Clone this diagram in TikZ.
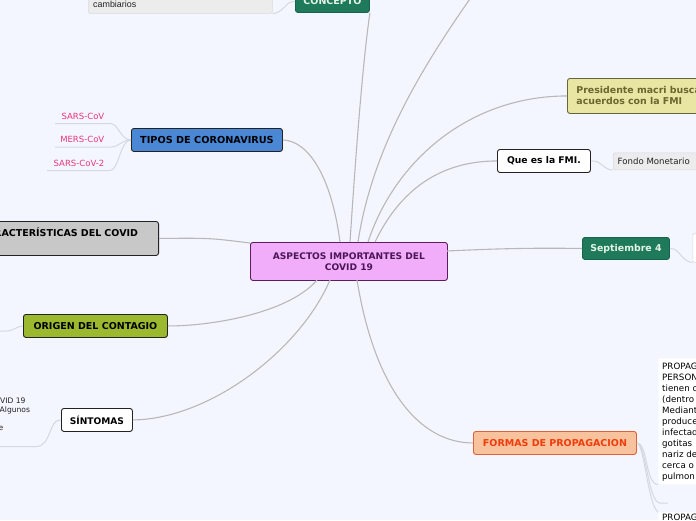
\documentclass[tikz,border=0pt]{standalone}
\usepackage{fontspec}
\setmainfont{DejaVu Sans}
\newfontfamily\arialfont{Liberation Sans}
\usetikzlibrary{calc}
\definecolor{bg}{HTML}{F3F6FE}
\definecolor{linegray}{HTML}{B8B8B8}
\definecolor{ulgray}{HTML}{D4D8E0}
\definecolor{cfill}{HTML}{F2ADFA}
\definecolor{cdraw}{HTML}{5A1E5E}
\definecolor{ctext}{HTML}{4A1656}
\definecolor{gfill}{HTML}{1F7A5C}
\definecolor{gdraw}{HTML}{17634A}
\definecolor{gtext}{HTML}{E6F4E8}
\definecolor{bfill}{HTML}{4A88D6}
\definecolor{dk}{HTML}{222222}
\definecolor{grfill}{HTML}{C8C8C8}
\definecolor{ofill}{HTML}{9CB82E}
\definecolor{yfill}{HTML}{E8E6A2}
\definecolor{ydraw}{HTML}{66663E}
\definecolor{ytext}{HTML}{6B6530}
\definecolor{pfill}{HTML}{F8C29C}
\definecolor{pdraw}{HTML}{E0603A}
\definecolor{ptext}{HTML}{F03C0C}
\definecolor{pink}{HTML}{E8357F}
\definecolor{lbox}{HTML}{ECECEC}
\definecolor{lboxd}{HTML}{DADADA}
\begin{document}
\begin{tikzpicture}[x=1pt,y=-1pt,
  topic/.style={draw, rounded corners=2.5pt, line width=0.9pt, inner sep=0pt, anchor=north west,
    font=\bfseries\fontsize{9.5}{11.5}\selectfont, align=center},
  conn/.style={draw=linegray, line width=1.1pt},
  uline/.style={draw=ulgray, line width=1pt},
  small/.style={inner sep=0pt, font=\fontsize{8.5}{9.5}\selectfont},
  pinktxt/.style={inner sep=0pt, anchor=east, text=pink, font=\fontsize{8.5}{9.5}\selectfont},
  lightbox/.style={fill=lbox, draw=lboxd, line width=0.6pt, rounded corners=1.5pt, inner sep=0pt, anchor=north west},
  whitebox/.style={fill=white, draw=lboxd, line width=0.6pt, rounded corners=1.5pt, inner sep=0pt, anchor=north west}
  ]
\fill[bg] (0,0) rectangle (696,520);
\useasboundingbox (0,0) rectangle (696,520);

% ---------- nodes ----------
\node[topic, fill=cfill, draw=cdraw, text=ctext, minimum width=197, minimum height=38,
  font=\bfseries\fontsize{9.1}{10.5}\selectfont] (c) at (250,242) {ASPECTOS IMPORTANTES DEL\\COVID 19};

\node[lightbox, minimum width=184, minimum height=33] (cam) at (88,-20) {};
\node[small, anchor=base west, font=\arialfont\fontsize{8.9}{10}\selectfont, text=dk] (camt) at (93,7.5) {cambiarios};
\node[topic, fill=gfill, draw=gdraw, text=gtext, minimum width=74, minimum height=22] (concept) at (295,-10) {CONCEPTO};

\node[topic, fill=bfill, draw=dk, text=black, minimum width=151, minimum height=23,
  font=\bfseries\fontsize{9.7}{11.5}\selectfont] (tipos) at (131,128) {TIPOS DE CORONAVIRUS};
\node[pinktxt] (s1) at (104.5,116) {SARS-CoV};
\node[pinktxt] (s2) at (104.5,139.5) {MERS-CoV};
\node[pinktxt] (s3) at (104.5,163) {SARS-CoV-2};
\coordinate (s1r) at (110,123.5); \coordinate (s1l) at (55,123.5);
\coordinate (s2r) at (112,147); \coordinate (s2l) at (55,147);
\coordinate (s3r) at (110,170.5); \coordinate (s3l) at (47,170.5);

\node[topic, fill=grfill, draw=dk, text=black, anchor=north east, minimum width=220, minimum height=34,
  text width=179, align=right, inner xsep=20.5pt] (car) at (159,221) {CARACTERÍSTICAS DEL COVID\\[1pt]\mbox{}};

\node[topic, fill=ofill, draw=dk, text=black, minimum width=144, minimum height=23] (origen) at (23,314) {ORIGEN DEL CONTAGIO};
\coordinate (orl) at (0,331);

\node[topic, fill=white, draw=dk, text=black, minimum width=71, minimum height=23,
  font=\bfseries\fontsize{9.1}{11}\selectfont] (sint) at (61,408) {SÍNTOMAS};
\node[small, anchor=west, text=dk, font=\fontsize{7.6}{9.5}\selectfont] (f1) at (0,400.5) {VID 19};
\node[small, anchor=west, text=dk, font=\fontsize{7.6}{9.5}\selectfont] (f2) at (-0.5,410) {Algunos};
\node[small, anchor=west, text=dk, font=\fontsize{7.6}{9.5}\selectfont] (f3) at (-1.6,428.5) {e};
\coordinate (sil) at (0,446.5);

\node[topic, fill=yfill, draw=ydraw, text=ytext, minimum height=35, align=left, inner xsep=9pt,
  font=\bfseries\fontsize{9.4}{11}\selectfont] (pres) at (567,78) {Presidente macri busca\\acuerdos con la FMI\hspace*{30pt}};

\node[topic, fill=white, draw=dk, text=black, minimum width=93, minimum height=23,
  font=\bfseries\fontsize{9.2}{11}\selectfont] (fmi) at (497,149) {Que es la FMI.};
\node[lightbox, minimum width=100, minimum height=17] (fondo) at (613,152.5) {};
\node[small, anchor=west, text=dk, font=\fontsize{8.6}{10}\selectfont] (fondot) at (617.5,161) {Fondo Monetario};

\node[topic, fill=gfill, draw=gdraw, text=gtext, minimum width=87, minimum height=22,
  font=\bfseries\fontsize{9.4}{11}\selectfont] (sept) at (582,237) {Septiembre 4};
\node[whitebox, minimum width=30, minimum height=29] (rb) at (692.5,233) {};

\node[topic, fill=pfill, draw=pdraw, text=ptext, minimum width=163, minimum height=23] (formas) at (473,431) {FORMAS DE PROPAGACION};
\node[whitebox, draw=none, minimum width=60, minimum height=126] (pb) at (658,358) {};
\node[small, anchor=north west, text=black, align=left, font=\fontsize{8.7}{11}\selectfont] (pbt) at (662,362.5)
  {PROPAGAC\\PERSON\\tienen c\\(dentro\\Mediant\\produce\\infectad\\gotitas\\nariz de\\cerca o\\pulmon};
\coordinate (mid) at (668,503);
\node[whitebox, draw=none, minimum width=60, minimum height=20] (pb2) at (658,512) {};
\node[small, anchor=north west, text=black, font=\fontsize{8.7}{11}\selectfont] (pb2t) at (662,513.5) {PROPAG};

% ---------- connectors ----------
\coordinate (ct1) at (340,242);
\coordinate (ct2) at (350,242);
\coordinate (ct3) at (358,242);
\coordinate (ct4) at (368,242);
\coordinate (ct5) at (375,242);
\coordinate (cb1) at (317,280);
\coordinate (cb2) at (330,280);
\coordinate (cb3) at (357,280);
\coordinate (cl) at (250,243);
\coordinate (cr) at (447,251);
\coordinate (topend) at (472,-4);

\draw[conn] (ct1) .. controls (332,180) and (310,141) .. (tipos.east);
\draw[conn] (ct2) .. controls (356,150) and (363,60) .. (concept.south east);
\draw[conn] (ct3) .. controls (372,150) and (420,70) .. (topend);
\draw[conn] (ct4) .. controls (395,160) and (470,96) .. (pres.west);
\draw[conn] (ct5) .. controls (400,190) and (440,161) .. (fmi.west);
\draw[conn] (cr) .. controls (510,248) and (540,248) .. (sept.west);
\draw[conn] (cb3) .. controls (375,390) and (420,443) .. (formas.west);
\draw[conn] (cb2) .. controls (300,350) and (210,419) .. (sint.east);
\draw[conn] (cb1) .. controls (290,312) and (215,326) .. (origen.east);
\draw[conn] (cl) .. controls (210,238) .. (car.east);

% sub connectors
\draw[uline] (concept.west) .. controls (285,1) and (284,13) .. (cam.south east);
\draw[uline] (tipos.west) .. controls (120,140) and (119,123.5) .. (s1r) -- (s1l);
\draw[uline] (tipos.west) .. controls (122,140) and (118,147) .. (s2r) -- (s2l);
\draw[uline] (tipos.west) .. controls (120,140) and (119,170.5) .. (s3r) -- (s3l);
\draw[uline] (origen.west) .. controls (17,326) and (14,331) .. (6,331) -- (orl);
\draw[uline] (sint.west) .. controls (48,419) and (52,446.5) .. (36,446.5) -- (sil);
\draw[uline] (fmi.east) .. controls (602,160) and (602,169.5) .. (fondo.south west);
\draw[uline] (sept.east) .. controls (680,248) and (681,261.5) .. (rb.south west);
\draw[uline] (formas.east) .. controls (648,443) and (645,484) .. (pb.south west);
\draw[uline] (formas.east) .. controls (646,443) and (648,503) .. (660,503) -- (mid);
\draw[uline] (formas.east) .. controls (644,443) and (648,505) .. (pb2.north west);
\end{tikzpicture}
\end{document}
